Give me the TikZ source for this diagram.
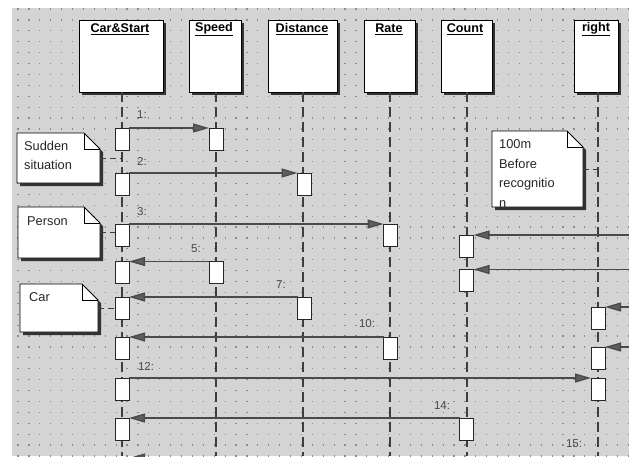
\documentclass[tikz,border=0pt]{standalone}
\usepackage{fontspec}
\setmainfont{Liberation Sans}
\usetikzlibrary{arrows.meta,shadows}
\definecolor{bgc}{HTML}{D4D4D4}
\definecolor{dotc}{HTML}{8C8C8C}
\definecolor{linec}{HTML}{3E3E3E}
\definecolor{arrc}{HTML}{4A4A4A}
\definecolor{tipc}{HTML}{5E5E5E}
\definecolor{lblc}{HTML}{484848}
\newcommand\mynote[1]{%
  \fill[black!80] ([shift={(3,3)}]#1.north west) -- ([shift={(-13,3)}]#1.north east)
    -- ([shift={(3,19)}]#1.north east) -- ([shift={(3,3)}]#1.south east)
    -- ([shift={(3,3)}]#1.south west) -- cycle;
  \draw[fill=white, line width=0.9pt] (#1.north west) -- ([shift={(-16,0)}]#1.north east)
    -- ([shift={(0,16)}]#1.north east) -- (#1.south east) -- (#1.south west) -- cycle;
  \draw[line width=0.7pt] ([shift={(-16,0)}]#1.north east) -- ([shift={(-16,16)}]#1.north east)
    -- ([shift={(0,16)}]#1.north east);
}
\begin{document}
\begin{tikzpicture}[x=1pt,y=-1pt,
  head/.style={draw=black, line width=1pt, fill=white, minimum height=72pt, inner sep=0pt, outer sep=0pt,
     drop shadow={shadow xshift=3pt, shadow yshift=-3pt, opacity=1, fill=black!80}},
  title/.style={font=\fontsize{12.6}{14}\selectfont\bfseries, inner sep=0pt},
  act/.style={draw=black!85, line width=0.9pt, fill=white, minimum width=14pt, minimum height=22pt, inner sep=0pt, outer sep=0pt},
  life/.style={draw=linec, line width=1.3pt, dash pattern=on 10pt off 5pt},
  msg/.style={draw=arrc, line width=1.3pt, -{Triangle[length=16pt,width=9pt,fill=tipc]}},
  lbl/.style={font=\fontsize{11.5}{13}\selectfont, text=lblc, inner sep=0pt},
  notebox/.style={rectangle, inner sep=0pt, outer sep=0pt},
  ntext/.style={font=\fontsize{12.8}{15}\selectfont, text=black!85, inner sep=0pt, anchor=west},
  conn/.style={draw=linec, line width=1pt, dash pattern=on 6pt off 4pt}
]
\useasboundingbox (0,0) rectangle (629,456);
\begin{scope}
\clip (0,0) rectangle (629,456);
\fill[white] (0,0) rectangle (629,456);
\fill[bgc] (12,8) rectangle (629,456);
\foreach \r in {0,...,41}
  \draw[dotc, line width=1.2pt, dash pattern=on 1.2pt off 9.7pt] (17.4,9+10.9*\r) -- (629,9+10.9*\r);

% lifeline ends
\coordinate (eCar) at (122,456);
\coordinate (eSpeed) at (216,456);
\coordinate (eDist) at (303,456);
\coordinate (eRate) at (390,456);
\coordinate (eCount) at (467,456);
\coordinate (eRight) at (598,456);

% heads
\node[head, minimum width=84pt] (hCar) at (121,56) {};
\node[head, minimum width=52pt] (hSpeed) at (215,56) {};
\node[head, minimum width=69pt] (hDist) at (302.5,56) {};
\node[head, minimum width=51pt] (hRate) at (389.5,56) {};
\node[head, minimum width=51pt] (hCount) at (466.5,56) {};
\node[head, minimum width=44pt] (hRight) at (596,56) {};
\node[title] (tCar) at (120,29) {\underline{Car\&Start}};
\node[title] (tSpeed) at (214,29) {\underline{Speed}};
\node[title] (tDist) at (302,29) {\underline{Distance}};
\node[title] (tRate) at (389,29) {\underline{Rate}};
\node[title] (tCount) at (465,29) {\underline{Count}};
\node[title] (tRight) at (596,29) {\underline{right}};

% lifelines
\foreach \h/\e in {hCar/eCar,hSpeed/eSpeed,hDist/eDist,hRate/eRate,hCount/eCount,hRight/eRight}
  \draw[life] (\h.south -| \e) -- (\e);

% activation boxes
\node[act] (c1) at (122,139) {};
\node[act] (c2) at (122,184) {};
\node[act] (c3) at (122,235.5) {};
\node[act] (c4) at (122,272.5) {};
\node[act] (c5) at (122,308) {};
\node[act] (c6) at (122,348) {};
\node[act] (c7) at (122,389) {};
\node[act] (c8) at (122,429) {};
\node[act] (c9) at (122,469) {};
\node[act] (s1) at (216,139) {};
\node[act] (s2) at (216,272.5) {};
\node[act] (d1) at (304.5,184) {};
\node[act] (d2) at (304.5,308) {};
\node[act] (r1) at (390.5,235) {};
\node[act] (r2) at (390.5,348) {};
\node[act] (k1) at (466.5,246) {};
\node[act] (k2) at (466.5,280.5) {};
\node[act] (k3) at (466.5,429) {};
\node[act] (g1) at (598,318) {};
\node[act] (g2) at (598,358) {};
\node[act] (g3) at (598,389) {};
\node[act] (g4) at (598,469) {};

% off-picture sources
\coordinate (xk1) at (635,235);
\coordinate (xk2) at (635,269.5);
\coordinate (xg1) at (635,307);
\coordinate (xg2) at (635,347);

% messages
\draw[msg] (c1.north east) -- (s1.north west);
\draw[msg] (c2.north east) -- (d1.north west);
\draw[msg] (c3.north east |- r1.north) -- (r1.north west);
\draw[msg] (xk1) -- (k1.north east);
\draw[msg] (xk2) -- (k2.north east);
\draw[msg] (s2.north west) -- (c4.north east);
\draw[msg] (d2.north west) -- (c5.north east);
\draw[msg] (xg1) -- (g1.north east);
\draw[msg] (r2.north west) -- (c6.north east);
\draw[msg] (xg2) -- (g2.north east);
\draw[msg] (c7.north east) -- (g3.north west);
\draw[msg] (k3.north west) -- (c8.north east);
\draw[msg] (g4.north west) -- (c9.north east);

% labels
\node[lbl] (l1) at (142,115) {1:};
\node[lbl] (l2) at (142,161) {2:};
\node[lbl] (l3) at (142,212) {3:};
\node[lbl] (l5) at (196,249) {5:};
\node[lbl] (l7) at (281,285) {7:};
\node[lbl] (l10) at (367,324) {10:};
\node[lbl] (l12) at (146,366) {12:};
\node[lbl] (l14) at (442,406) {14:};
\node[lbl] (l15) at (574,444) {15:};

% notes
\node[notebox, minimum width=83pt, minimum height=50pt] (n1) at (58.5,158) {};
\node[notebox, minimum width=82pt, minimum height=51pt] (n2) at (59,232.5) {};
\node[notebox, minimum width=78pt, minimum height=48pt] (n3) at (59,308) {};
\node[notebox, minimum width=91pt, minimum height=76pt] (n4) at (537.5,169) {};
\mynote{n1}
\mynote{n2}
\mynote{n3}
\mynote{n4}
\node[ntext] (n1a) at (24,146) {Sudden};
\node[ntext] (n1b) at (24,165) {situation};
\node[ntext] (n2a) at (27,221) {Person};
\node[ntext] (n3a) at (29,297) {Car};
\begin{scope}
  \clip ([shift={(1,1)}]n4.north west) rectangle ([shift={(-1,-1)}]n4.south east);
  \node[ntext] (n4a) at (499,144) {100m};
  \node[ntext] (n4b) at (499,164) {Before};
  \node[ntext] (n4c) at (499,184) {recognitio};
  \node[ntext] (n4d) at (499,204) {n};
\end{scope}
\draw[conn] (n1.east) -- (n1.east -| eCar);
\draw[conn] (n2.east) -- (n2.east -| c3.west);
\draw[conn] (n3.east) -- (n3.east -| c5.west);
\draw[conn] (n4.east) -- (n4.east -| eRight);
\end{scope}
\end{tikzpicture}
\end{document}
